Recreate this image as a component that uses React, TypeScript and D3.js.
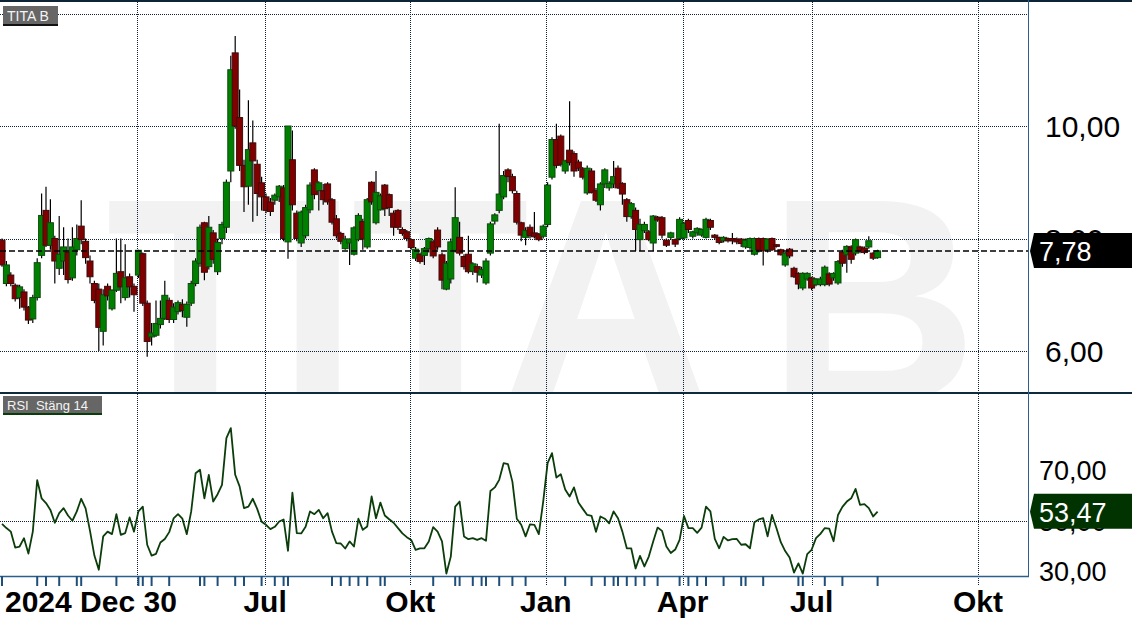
import * as d3 from "d3";

// daily-ish candles (TITA B)
const opens = [
  7.97, 7.2, 7.35, 7.17, 6.95, 7.05, 6.78, 6.57, 6.95, 7.7,
  8.5, 7.88, 8.0, 7.47, 7.6, 7.75, 7.3, 7.8, 8.22, 7.95,
  7.6, 7.2, 7.1, 6.35, 7.15, 6.75, 7.08, 7.41, 6.95, 7.32,
  7.15, 7.35, 7.73, 6.85, 6.25, 6.28, 6.47, 6.58, 6.9, 6.56,
  6.7, 6.83, 6.6, 6.85, 7.2, 7.56, 8.28, 7.5, 8.1, 7.41,
  8.0, 8.2, 9.2, 11.3, 10.15, 9.3, 8.93, 9.7, 9.32, 8.99,
  8.74, 8.65, 8.68, 8.74, 8.9, 7.94, 9.4, 8.45, 7.92, 8.05,
  8.51, 9.22, 8.85, 8.85, 8.97, 8.69, 8.35, 8.09, 7.82, 7.92,
  7.72, 7.98, 8.3, 7.85, 9.0, 8.28, 8.51, 8.95, 8.78, 8.45,
  8.5, 8.16, 8.12, 7.98, 7.65, 7.72, 7.7, 7.82, 7.94, 8.15,
  7.71, 7.1, 7.28, 7.79, 8.02, 7.68, 7.72, 7.42, 7.5, 7.35,
  7.21, 7.74, 8.31, 8.5, 8.74, 9.22, 9.1, 8.8, 8.28, 8.02,
  8.2, 8.1, 8.08, 8.04, 8.25, 9.09, 9.76, 9.82, 9.2, 9.57,
  9.51, 9.36, 9.24, 8.81, 9.2, 8.85, 8.6, 8.97, 8.9, 8.97,
  9.25, 8.98, 8.69, 8.39, 8.5, 7.98, 8.14, 8.12, 7.92, 8.38,
  8.37, 7.97, 8.02, 7.98, 8.0, 8.01, 8.32, 8.04, 8.1, 8.06,
  8.02, 8.32, 8.06, 8.02, 7.96, 8.0, 8.0, 7.99, 7.99, 7.85,
  7.84, 7.72, 8.0, 8.0, 7.8, 8.0, 7.89, 7.8, 7.53, 7.81,
  7.47, 7.38, 7.12, 7.28, 7.3, 7.18, 7.18, 7.18, 7.37, 7.3,
  7.21, 7.76, 7.71, 7.85, 7.74, 7.85, 7.83, 7.85, 7.74, 7.66,
];
const highs = [
  8.0, 7.6, 7.4, 7.2, 7.18, 7.1, 6.8, 7.0, 7.65, 8.8,
  8.92, 8.7, 8.05, 8.4, 8.2, 8.0, 8.2, 8.25, 8.68, 8.0,
  7.7, 7.25, 7.2, 7.1, 7.2, 7.1, 8.0, 8.0, 7.9, 7.38,
  7.2, 7.8, 7.75, 6.9, 6.5, 6.9, 6.9, 7.25, 6.95, 6.85,
  6.9, 6.92, 6.88, 7.25, 7.65, 8.25, 8.3, 8.4, 8.15, 8.0,
  8.3, 9.05, 11.25, 11.6, 10.65, 9.4, 10.46, 10.1, 9.4, 9.1,
  8.8, 8.72, 8.8, 8.95, 8.95, 10.0, 9.92, 8.5, 8.5, 8.6,
  9.0, 9.25, 9.02, 8.97, 9.0, 8.72, 8.42, 8.12, 8.05, 8.0,
  8.22, 8.45, 8.35, 8.72, 9.02, 9.2, 8.8, 8.97, 8.8, 8.5,
  8.52, 8.2, 8.15, 8.0, 7.85, 7.75, 7.85, 8.02, 7.98, 8.2,
  7.75, 7.6, 8.0, 8.91, 8.3, 7.72, 8.05, 7.58, 7.55, 7.5,
  7.65, 8.3, 8.45, 10.04, 9.2, 9.25, 9.15, 8.85, 8.3, 8.2,
  8.25, 8.47, 8.1, 8.25, 9.0, 9.8, 10.04, 9.85, 9.4, 10.44,
  9.55, 9.4, 9.27, 9.3, 9.25, 8.9, 9.0, 9.25, 9.02, 9.38,
  9.3, 9.0, 8.72, 8.65, 8.55, 8.35, 8.3, 8.15, 8.42, 8.4,
  8.4, 8.0, 8.12, 8.0, 8.38, 8.3, 8.35, 8.14, 8.2, 8.18,
  8.37, 8.35, 8.08, 8.03, 8.04, 8.02, 8.1, 8.02, 8.01, 8.0,
  8.02, 8.02, 8.02, 8.02, 8.0, 8.02, 7.9, 7.82, 7.76, 7.83,
  7.5, 7.4, 7.4, 7.4, 7.32, 7.3, 7.32, 7.52, 7.4, 7.4,
  7.62, 7.8, 7.88, 7.88, 8.0, 7.87, 7.86, 8.04, 7.76, 7.8,
];
const lows = [
  7.5, 7.15, 7.15, 6.88, 6.75, 6.72, 6.48, 6.5, 6.9, 7.65,
  7.85, 7.8, 7.2, 7.35, 7.35, 7.2, 7.25, 7.7, 7.9, 7.55,
  7.2, 6.85, 6.0, 6.1, 6.9, 6.72, 7.05, 6.85, 6.9, 6.95,
  6.7, 7.3, 6.8, 5.9, 6.1, 6.25, 6.4, 6.55, 6.5, 6.5,
  6.65, 6.6, 6.43, 6.8, 7.15, 7.5, 7.26, 7.45, 7.55, 7.35,
  7.9, 8.1, 9.0, 9.95, 9.2, 8.47, 8.6, 8.3, 8.4, 8.5,
  8.45, 8.4, 8.6, 8.65, 7.95, 7.64, 8.5, 7.95, 7.85, 8.0,
  8.45, 8.7, 8.5, 8.6, 8.6, 8.25, 8.0, 7.9, 7.8, 7.53,
  7.7, 7.95, 7.8, 7.82, 8.6, 8.25, 8.5, 8.4, 8.4, 8.05,
  8.15, 8.05, 7.95, 7.8, 7.6, 7.55, 7.53, 7.75, 7.65, 7.8,
  7.1, 7.08, 7.2, 7.75, 7.7, 7.45, 7.38, 7.35, 7.22, 7.3,
  7.18, 7.7, 8.25, 8.45, 8.7, 9.0, 8.8, 8.25, 7.95, 7.88,
  8.0, 8.0, 7.95, 8.0, 8.2, 9.05, 9.25, 9.28, 9.15, 9.3,
  9.1, 9.2, 9.05, 8.78, 8.8, 8.65, 8.5, 8.9, 8.85, 8.9,
  8.88, 8.6, 8.3, 8.35, 7.78, 7.78, 8.1, 7.95, 7.78, 8.3,
  8.0, 7.85, 7.98, 7.85, 7.97, 7.98, 8.1, 8.0, 8.05, 8.03,
  8.0, 8.15, 7.98, 7.9, 7.93, 7.93, 7.9, 7.9, 7.85, 7.82,
  7.8, 7.7, 7.75, 7.52, 7.75, 7.78, 7.84, 7.7, 7.5, 7.65,
  7.3, 7.1, 7.08, 7.25, 7.08, 7.15, 7.15, 7.15, 7.15, 7.25,
  7.18, 7.5, 7.39, 7.55, 7.7, 7.74, 7.72, 7.82, 7.62, 7.64,
];
const closes = [
  7.53, 7.53, 7.2, 6.93, 7.14, 6.78, 6.55, 6.95, 7.57, 8.41,
  7.88, 8.28, 7.6, 7.72, 7.85, 7.27, 7.85, 8.0, 7.98, 7.66,
  7.32, 6.9, 6.42, 7.0, 6.98, 7.08, 7.38, 7.14, 7.3, 7.14,
  7.0, 7.79, 6.85, 6.17, 6.32, 6.49, 6.58, 6.99, 6.56, 6.78,
  6.86, 6.72, 6.83, 7.2, 7.6, 8.2, 7.4, 8.2, 7.63, 7.93,
  8.25, 9.0, 11.0, 10.0, 9.3, 8.92, 9.58, 9.38, 8.8, 8.74,
  8.5, 8.48, 8.77, 8.93, 8.0, 10.0, 8.6, 8.0, 8.47, 8.55,
  8.95, 8.78, 8.99, 8.69, 8.65, 8.29, 8.05, 7.95, 7.99, 7.99,
  8.19, 8.41, 7.99, 8.69, 8.65, 8.82, 8.76, 8.53, 8.55, 8.2,
  8.2, 8.09, 8.0, 7.84, 7.81, 7.59, 7.82, 8.0, 7.69, 7.85,
  7.26, 7.56, 7.94, 8.37, 7.74, 7.5, 7.41, 7.55, 7.4, 7.45,
  7.6, 8.26, 8.42, 8.79, 9.12, 9.1, 8.85, 8.29, 8.06, 8.14,
  8.05, 8.03, 7.98, 8.22, 8.95, 9.76, 9.3, 9.32, 9.38, 9.35,
  9.2, 9.25, 9.09, 9.25, 8.82, 8.68, 8.97, 9.22, 8.98, 9.1,
  8.9, 8.79, 8.39, 8.62, 8.16, 8.25, 8.25, 7.98, 8.4, 8.33,
  8.06, 7.88, 8.1, 7.9, 8.34, 8.27, 8.16, 8.12, 8.18, 8.16,
  8.34, 8.2, 8.02, 7.93, 8.02, 7.96, 7.96, 7.94, 7.91, 7.97,
  8.0, 8.0, 7.8, 7.78, 7.99, 7.8, 7.86, 7.71, 7.74, 7.69,
  7.32, 7.19, 7.38, 7.38, 7.12, 7.28, 7.28, 7.49, 7.19, 7.38,
  7.59, 7.56, 7.86, 7.63, 7.98, 7.78, 7.75, 7.96, 7.65, 7.78,
];
const rsiValues = [
  48.7, 47.0, 45.6, 39.3, 39.7, 43.0, 36.9, 45.6, 66.0, 58.8,
  56.9, 54.2, 49.1, 52.9, 54.9, 52.0, 49.9, 53.6, 58.6, 54.8,
  45.9, 36.1, 30.5, 43.7, 45.6, 44.6, 52.5, 44.3, 45.0, 51.2,
  45.6, 53.6, 55.5, 40.4, 36.1, 36.8, 41.3, 42.7, 45.4, 50.8,
  52.5, 50.7, 44.6, 53.6, 68.7, 70.1, 58.8, 68.1, 57.5, 60.4,
  64.1, 82.6, 86.6, 68.1, 63.5, 54.9, 55.5, 58.6, 54.6, 49.5,
  48.3, 46.6, 47.5, 49.6, 50.4, 38.0, 61.0, 45.0, 44.9, 47.5,
  53.6, 52.5, 54.2, 50.9, 52.9, 45.6, 41.0, 40.9, 38.9, 41.7,
  39.7, 50.7, 46.3, 47.6, 59.5, 50.9, 57.1, 52.0, 50.5, 49.1,
  47.0, 44.9, 43.4, 42.3, 38.4, 39.0, 39.0, 41.7, 47.4, 45.6,
  41.7, 29.0, 35.7, 55.5, 57.5, 43.7, 42.6, 43.0, 42.3, 43.0,
  42.0, 61.7, 63.1, 66.1, 72.7, 72.3, 65.4, 50.7, 48.3, 43.7,
  48.5, 48.3, 44.6, 57.5, 72.7, 76.7, 67.0, 68.3, 62.3, 59.5,
  63.1, 57.1, 54.6, 52.2, 51.8, 45.5, 51.6, 50.7, 48.9, 53.6,
  50.9, 45.6, 39.0, 39.0, 31.0, 36.0, 31.8, 35.7, 41.7, 47.2,
  45.9, 39.7, 37.1, 38.5, 42.3, 51.8, 47.0, 47.0, 45.1, 47.2,
  55.5, 53.6, 42.7, 39.0, 43.5, 42.1, 42.6, 42.7, 40.4, 40.6,
  39.0, 49.3, 50.4, 50.9, 43.7, 52.2, 47.0, 41.4, 37.9, 35.3,
  29.4, 33.0, 29.0, 36.7, 38.4, 43.0, 44.7, 47.0, 46.8, 41.8,
  52.2, 55.4, 57.5, 58.8, 62.5, 56.2, 56.5, 54.9, 51.6, 53.47,
];

// month boundaries in candle-index units
const monthLines = [
  { idx: 30.7, label: "" },
  { idx: 59.8, label: "Jul" },
  { idx: 92.8, label: "Okt" },
  { idx: 123.6, label: "Jan" },
  { idx: 154.7, label: "Apr" },
  { idx: 184.0, label: "Jul" },
  { idx: 221.8, label: "Okt" },
];
const eventTicks = [
  0, 8, 10, 13, 17, 18, 26, 31, 32, 34, 38, 45, 46, 49, 53, 55, 59, 62, 64, 65,
  75, 77, 79, 81, 83, 86, 87, 98, 103, 104, 107, 109, 110, 113, 116, 119, 128,
  134, 137, 139, 140, 142, 144, 146, 149, 154, 156, 158, 160, 164, 168, 169,
  173, 181, 182, 187, 191, 199,
];
const priceGrid = [6, 8, 10, 12];
const priceLabels = [6, 8, 10];
const rsiGrid = [50];
const rsiLabels = [30, 50, 70];
const lastPrice = 7.78;
const lastRsi = 53.47;
const title = "TITA B";
const rsiTitle = "RSI  Stäng 14";
const startLabel = "2024 Dec 30";

const FONT = "'Liberation Sans', Arial, sans-serif";
const fmt = (v: number) => v.toFixed(2).replace(".", ",");
const px = (v: number) => Math.round(v) + 0.5;

export default function App() {
  const W = 1132;
  const H = 620;
  const plotRight = 1028;
  const priceTop = 2;
  const priceBottom = 392;
  const rsiTop = 394;
  const rsiBottom = 576;

  const n = closes.length;
  const x = d3.scaleLinear().domain([0, n - 1]).range([2, 877.6]);
  const yP = d3.scaleLinear().domain([6, 12]).range([351, 13.5]);
  const yR = d3.scaleLinear().domain([30, 70]).range([571, 470]);

  const rsiLine = d3
    .line<number>()
    .x((_, i) => x(i))
    .y((d) => yR(d))(rsiValues);

  const bodyW = 6;
  const dotted = "1 1";
  const gridColor = "#0b2238";

  const yLP = yP(lastPrice);
  const yLR = yR(lastRsi);
  const tag = (yc: number) =>
    `M1030,${yc} L1034,${yc - 18} L${W},${yc - 18} L${W},${yc + 17} L1034,${yc + 17} Z`;

  return (
    <div style={{ position: "absolute", left: 0, top: 0 }}>
      <svg width={W} height={H} style={{ display: "block", fontFamily: FONT }}>
        <defs>
          <clipPath id="pclip">
            <rect x={0} y={priceTop} width={plotRight} height={priceBottom - priceTop} />
          </clipPath>
          <clipPath id="rclip">
            <rect x={0} y={rsiTop} width={plotRight} height={rsiBottom - rsiTop} />
          </clipPath>
        </defs>
        <rect width={W} height={H} fill="#fff" />

        {/* watermark */}
        <g clipPath="url(#pclip)">
          <text
            x={106}
            y={402}
            fontSize={292}
            fontWeight="bold"
            fill="#f2f2f2"
            textLength={872}
            lengthAdjust="spacing"
          >
            {title}
          </text>
        </g>

        {/* grid */}
        <g shapeRendering="crispEdges">
          {priceGrid.map((v) => (
            <line key={"pg" + v} x1={0} x2={plotRight} y1={px(yP(v))} y2={px(yP(v))} stroke={gridColor} strokeDasharray={dotted} />
          ))}
          {rsiGrid.map((v) => (
            <line key={"rg" + v} x1={0} x2={plotRight} y1={px(yR(v))} y2={px(yR(v))} stroke={gridColor} strokeDasharray={dotted} />
          ))}
          {monthLines.map((m, i) => (
            <line key={"ml" + i} x1={px(x(m.idx))} x2={px(x(m.idx))} y1={priceTop} y2={586} stroke={gridColor} strokeDasharray={dotted} />
          ))}
        </g>

        {/* candles */}
        <g clipPath="url(#pclip)">
          {closes.map((c, i) => {
            const o = opens[i];
            const up = c >= o;
            const cx = x(i);
            const top = yP(Math.max(o, c));
            const bot = yP(Math.min(o, c));
            return (
              <g key={"c" + i}>
                <line x1={cx} x2={cx} y1={yP(highs[i])} y2={yP(lows[i])} stroke="#000" strokeWidth={1.2} />
                <rect
                  x={cx - bodyW / 2}
                  y={top}
                  width={bodyW}
                  height={Math.max(1.5, bot - top)}
                  fill={up ? "#008000" : "#800000"}
                  stroke={up ? "#0b4a0b" : "#3f0a0a"}
                  strokeWidth={1}
                />
              </g>
            );
          })}
          <line x1={0} x2={plotRight} y1={yLP} y2={yLP} stroke="#000" strokeWidth={1.5} strokeDasharray="6 3" />
        </g>

        {/* RSI */}
        <g clipPath="url(#rclip)">
          <path d={rsiLine ?? ""} fill="none" stroke="#0b3d0b" strokeWidth={1.8} strokeLinejoin="round" />
        </g>

        {/* frame */}
        <line x1={0} x2={W} y1={1} y2={1} stroke="#0d2436" strokeWidth={2} />
        <line x1={0} x2={W} y1={393} y2={393} stroke="#0d2a3d" strokeWidth={2} />
        <line x1={plotRight + 0.5} x2={plotRight + 0.5} y1={0} y2={rsiBottom} stroke="#2b5f8f" strokeWidth={1} />
        <line x1={0} x2={plotRight + 1} y1={rsiBottom + 0.5} y2={rsiBottom + 0.5} stroke="#2b5f8f" strokeWidth={1.5} />
        {eventTicks.map((t, i) => (
          <line key={"et" + i} x1={x(t)} x2={x(t)} y1={rsiBottom} y2={586} stroke="#1f4e79" strokeWidth={2} />
        ))}

        {/* axis labels */}
        {priceLabels.map((v) => (
          <text key={"pl" + v} x={1045} y={yP(v) + 11} fontSize={30} fill="#000">
            {fmt(v)}
          </text>
        ))}
        {rsiLabels.map((v) => (
          <text key={"rl" + v} x={1039} y={yR(v) + 10} fontSize={27} fill="#000">
            {fmt(v)}
          </text>
        ))}
        <text x={5} y={612} fontSize={30} fontWeight="bold" fill="#000">
          {startLabel}
        </text>
        {monthLines
          .filter((m) => m.label)
          .map((m, i) => (
            <text key={"mt" + i} x={x(m.idx)} y={612} fontSize={30} fontWeight="bold" textAnchor="middle" fill="#000">
              {m.label}
            </text>
          ))}

        {/* last value tags */}
        <path d={tag(yLP)} fill="#000" />
        <text x={1039} y={yLP + 10} fontSize={27} fill="#fff">
          {fmt(lastPrice)}
        </text>
        <path d={tag(yLR)} fill="#003300" />
        <text x={1039} y={yLR + 10} fontSize={27} fill="#fff">
          {fmt(lastRsi)}
        </text>

        {/* panel titles */}
        <rect x={3} y={6} width={55} height={18} fill="#666" />
        <rect x={3} y={24} width={55} height={2} fill="#111" />
        <text x={7} y={21} fontSize={14} fill="#f4f4f4">
          {title}
        </text>
        <rect x={3} y={396} width={99} height={17} fill="#666" />
        <rect x={3} y={413} width={99} height={2} fill="#0a3d0a" />
        <text x={7} y={410} fontSize={13} fill="#f4f4f4" style={{ whiteSpace: "pre" }}>
          {rsiTitle}
        </text>
      </svg>
    </div>
  );
}
